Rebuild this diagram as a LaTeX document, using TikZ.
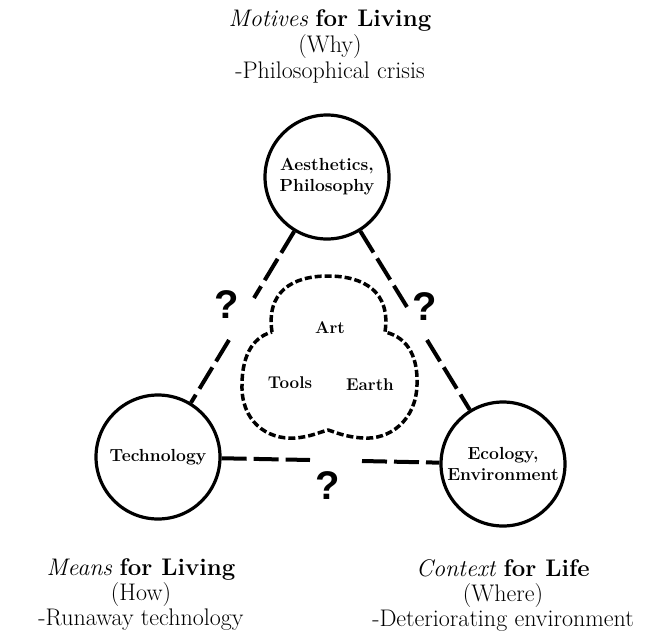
\documentclass[tikz,border=0pt]{standalone}
\usepackage{fontspec}
\newfontfamily\qfont{Liberation Sans}
\begin{document}
\begin{tikzpicture}[x=1pt,y=-1pt,
  circ/.style={circle, draw, line width=3.2pt, minimum size=124pt, inner sep=0pt, align=center, font=\fontsize{17.5}{21}\selectfont\bfseries},
  link/.style={line width=4pt, dash pattern=on 25pt off 7pt},
  qmark/.style={font=\qfont\fontsize{40}{40}\selectfont\bfseries, inner sep=0pt},
  lbl/.style={font=\fontsize{24}{25}\selectfont, inner sep=0pt, anchor=base},
  inlbl/.style={font=\fontsize{17}{18}\selectfont\bfseries, inner sep=0pt, anchor=base},
  cloud/.style={line width=3.5pt, dash pattern=on 7pt off 3pt, line join=round}]
\useasboundingbox (0,0) rectangle (666,637);

% circles
\node[circ] (top) at (327,177) {Aesthetics,\\Philosophy};
\node[circ] (tech) at (158,457) {\raisebox{-3pt}{Technology}};
\node[circ] (eco) at (503,464) {Ecology,\\Environment};

% gap ends of connectors
\coordinate (l1) at (254,298); \coordinate (l2) at (229,340);
\coordinate (r1) at (407,307); \coordinate (r2) at (427,340);
\coordinate (b1) at (310,460); \coordinate (b2) at (362,461);

\draw[link] (top) -- (l1);
\draw[link] (l2) -- (tech);
\draw[link] (top) -- (r1);
\draw[link] (r2) -- (eco);
\draw[link] (tech) -- (b1);
\draw[link] (b2) -- (eco);

% question marks
\node[qmark] (qL) at (227,305) {?};
\node[qmark] (qR) at (425,307) {?};
\node[qmark] (qB) at (328,486) {?};

% trefoil
\draw[cloud] (272,332) .. controls (266,292) and (292,276) .. (328,276)
  .. controls (364,276) and (391,292) .. (385,332)
  .. controls (410,338) and (418,360) .. (417,385)
  .. controls (416,420) and (390,440) .. (363,438)
  .. controls (345,437) and (335,432) .. (328,430)
  .. controls (320,432) and (310,437) .. (295,438)
  .. controls (266,440) and (241,420) .. (242,385)
  .. controls (242,360) and (250,338) .. (272,332) -- cycle;

\node[inlbl] (art) at (330,333) {Art};
\node[inlbl] (tools) at (290,388) {Tools};
\node[inlbl] (earth) at (370,390) {Earth};

% outer labels
\node[lbl] (m1) at (330,27) {\textit{Motives} \textbf{for Living}};
\node[lbl] (m2) at (330,52) {(Why)};
\node[lbl] (m3) at (330,78) {-Philosophical crisis};

\node[lbl] (n1) at (141,575) {\textit{Means} \textbf{for Living}};
\node[lbl] (n2) at (141,600) {(How)};
\node[lbl] (n3) at (141,625) {-Runaway technology};

\node[lbl] (c1) at (503,576) {\textit{Context} \textbf{for Life}};
\node[lbl] (c2) at (503,601) {(Where)};
\node[lbl] (c3) at (503,626) {-Deteriorating environment};
\end{tikzpicture}
\end{document}
